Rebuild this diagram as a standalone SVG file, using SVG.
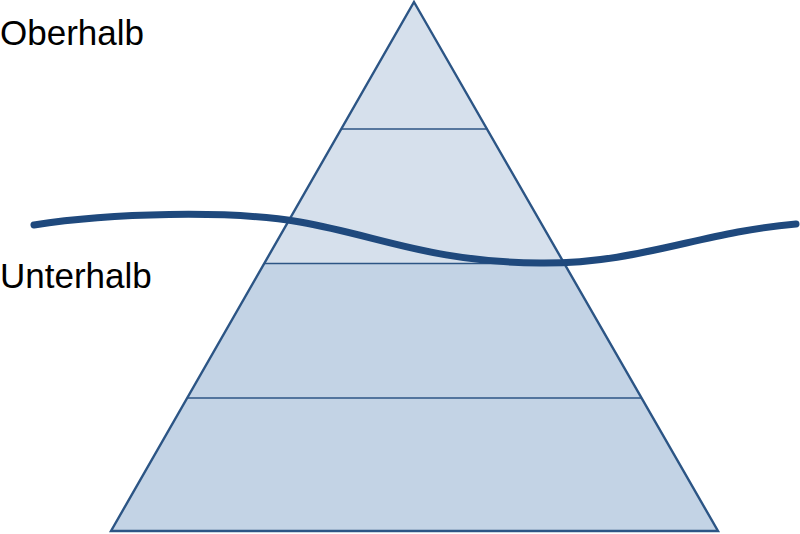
<svg xmlns="http://www.w3.org/2000/svg" width="800" height="534" viewBox="0 0 800 534">
<style>
.light{fill:#d6e0ec;stroke:none}
.dark{fill:#c3d3e5;stroke:none}
.div{stroke:#2c5585;stroke-width:1.6;fill:none}
.outline{fill:none;stroke:#2c5585;stroke-width:2.4;stroke-linejoin:miter}
.wave{fill:none;stroke:#1f497d;stroke-width:7;stroke-linecap:round}
.lbl{font-family:"Liberation Sans",Arial,sans-serif;font-size:35px;fill:#000}
</style>
<rect width="800" height="534" fill="#fff"/>
<g id="level1"><polygon class="light" points="414,2 487.5,129 341,129"/></g>
<g id="level2"><polygon class="light" points="341,129 487.5,129 564,263.5 264.5,263.5"/></g>
<g id="level3"><polygon class="dark" points="264.5,263.5 564,263.5 641,398 188,398"/></g>
<g id="level4"><polygon class="dark" points="188,398 641,398 718,531 111,531"/></g>
<g id="pyramid-lines">
<line class="div" x1="341" y1="129" x2="487.5" y2="129"/>
<line class="div" x1="264.5" y1="263.5" x2="564" y2="263.5"/>
<line class="div" x1="188" y1="398" x2="641" y2="398"/>
<polygon class="outline" points="414,2 718,531 111,531"/>
</g>
<g id="connectors">
<path class="wave" d="M34,225 C110,213 230,210 300,222 C380,236 430,262 540,263 C640,264 700,232 796,224"/>
</g>
<g id="label-oberhalb"><text class="lbl" x="0" y="45">Oberhalb</text></g>
<g id="label-unterhalb"><text class="lbl" x="0" y="288">Unterhalb</text></g>
</svg>
